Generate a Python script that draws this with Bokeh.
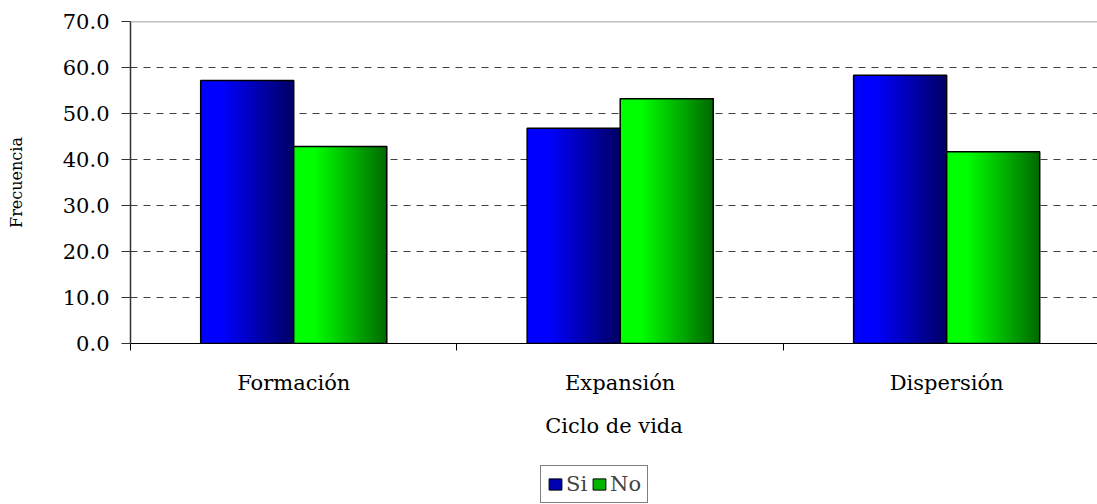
import numpy as np
from bokeh.plotting import figure
from bokeh.layouts import column
from bokeh.models import Range1d, FixedTicker, Span, Legend, LegendItem, PrintfTickFormatter
from bokeh.embed import file_html
from bokeh.resources import INLINE

categories = ["Formación", "Expansión", "Dispersión"]
si = [57.2, 46.8, 58.3]
no = [42.8, 53.2, 41.7]
y_ticks = [0, 10, 20, 30, 40, 50, 60, 70]
series_names = ["Si", "No"]

FONT = "DejaVu Serif"
BAR_W = 0.285
N_SLICES = 40

def grad(bright, dark, t):
    f = min(max((t - 0.22) / 0.78, 0.0), 1.0)
    c = [int(round(b * (1 - f) + d * f)) for b, d in zip(bright, dark)]
    return "#%02x%02x%02x" % tuple(c)

p = figure(width=1097, height=455, output_backend="svg", toolbar_location=None,
           x_range=Range1d(0, 2.962), y_range=Range1d(0, 70),
           min_border_left=130, min_border_right=0, min_border_top=21, min_border_bottom=112)
p.outline_line_color = None
p.background_fill_color = "white"
p.border_fill_color = "white"

# grid
p.xgrid.visible = False
p.ygrid.ticker = FixedTicker(ticks=y_ticks[1:-1])
p.ygrid.grid_line_color = "#404040"
p.ygrid.grid_line_dash = "7 6"
p.ygrid.grid_line_width = 1
p.add_layout(Span(location=y_ticks[-1], dimension="width", line_color="#808080", line_width=1.5))

# bars with gradient fill (each slice runs to the bar's right edge, later slices overlay)
palettes = [((0, 0, 255), (0, 0, 100)), ((0, 255, 0), (0, 105, 0))]
for s_idx, vals in enumerate([si, no]):
    bright, dark = palettes[s_idx]
    lefts, rights, tops, colors = [], [], [], []
    olefts, orights = [], []
    for i, v in enumerate(vals):
        x0 = i + 0.5 - BAR_W + s_idx * BAR_W
        olefts.append(x0)
        orights.append(x0 + BAR_W)
        for k in range(N_SLICES):
            lefts.append(x0 + k * BAR_W / N_SLICES)
            rights.append(x0 + BAR_W)
            tops.append(v)
            colors.append(grad(bright, dark, (k + 0.5) / N_SLICES))
    p.quad(left=lefts, right=rights, bottom=0, top=tops, fill_color=colors, line_color=None)
    p.quad(left=olefts, right=orights, bottom=0, top=vals, fill_color=None,
           line_color="black", line_width=1.5)

# y axis
ya = p.yaxis[0]
ya.ticker = FixedTicker(ticks=y_ticks)
ya.formatter = PrintfTickFormatter(format="%.1f")
ya.major_tick_in = 0
ya.major_tick_out = 9
ya.minor_tick_line_color = None
ya.axis_line_color = "#333333"
ya.axis_line_width = 1.5
ya.major_tick_line_color = "#333333"
ya.major_label_text_font = FONT
ya.major_label_text_font_size = "21px"
ya.major_label_text_color = "black"
ya.major_label_standoff = 12
ya.axis_label = "Frecuencia"
ya.axis_label_text_font = FONT
ya.axis_label_text_font_size = "16px"
ya.axis_label_text_font_style = "normal"
ya.axis_label_text_color = "black"
ya.axis_label_standoff = 34

# x axis
xa = p.xaxis[0]
centers = [i + 0.5 for i in range(len(categories))]
xa.ticker = FixedTicker(ticks=centers, minor_ticks=list(range(len(categories) + 1)))
xa.major_label_overrides = {c: lab for c, lab in zip(centers, categories)}
xa.major_tick_in = 0
xa.major_tick_out = 0
xa.minor_tick_in = 0
xa.minor_tick_out = 7
xa.minor_tick_line_color = "black"
xa.axis_line_color = "black"
xa.axis_line_width = 1
xa.major_label_text_font = FONT
xa.major_label_text_font_size = "21px"
xa.major_label_text_color = "black"
xa.major_label_standoff = 20
xa.axis_label = "Ciclo de vida"
xa.axis_label_text_font = FONT
xa.axis_label_text_font_size = "21px"
xa.axis_label_text_font_style = "normal"
xa.axis_label_text_color = "black"
xa.axis_label_standoff = 16

# legend strip below the chart (frames of the column are aligned, so x is from x=130)
lf = figure(width=1097, height=49, output_backend="svg", toolbar_location=None,
            x_range=Range1d(0, 1), y_range=Range1d(0, 1),
            x_axis_type=None, y_axis_type=None, min_border=0)
lf.outline_line_color = None
lf.xgrid.visible = False
lf.ygrid.visible = False
leg_items = []
for s_idx, name in enumerate(series_names):
    bright, dark = palettes[s_idx]
    r = lf.quad(left=[np.nan], right=[np.nan], bottom=[np.nan], top=[np.nan],
                fill_color=grad(bright, dark, 0.6), line_color="black", line_width=1)
    leg_items.append(LegendItem(label=name, renderers=[r]))
legend = Legend(items=leg_items, orientation="horizontal", location=(410, 1),
                label_text_font=FONT, label_text_font_size="21px",
                border_line_color="#000000", border_line_width=1,
                padding=6, spacing=4, glyph_width=16, glyph_height=14,
                label_standoff=3, margin=0, background_fill_alpha=1)
lf.add_layout(legend, "center")

layout = column(p, lf, spacing=0)
open("out.html", "w").write(file_html(layout, INLINE))
